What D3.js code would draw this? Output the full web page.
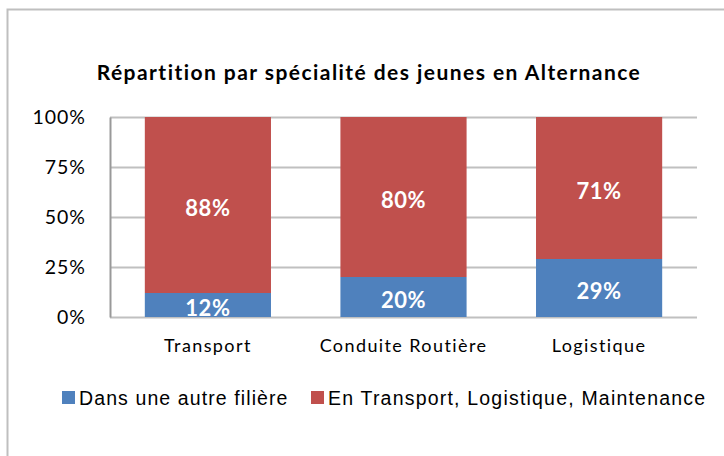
<!DOCTYPE html>
<html>
<head>
<meta charset="utf-8">
<script src="https://cdn.jsdelivr.net/npm/d3@7"></script>
<style>
  body { margin: 0; background: #fff; }
  svg { display: block; }
</style>
</head>
<body>
<script>
// données
const categories = ['Transport', 'Conduite Routière', 'Logistique'];
const autreFiliere = [12, 20, 29];
const enTransport = [88, 80, 71];
const seriesNames = ['Dans une autre filière', 'En Transport, Logistique, Maintenance'];
const yTicks = [0, 25, 50, 75, 100];
const colors = ['#4F81BD', '#C0504D'];

const W = 724, H = 456;
const margin = { top: 117, right: 27, bottom: 139, left: 110 };

const svg = d3.select('body').append('svg')
    .attr('width', W)
    .attr('height', H);

// cadre du graphique
svg.append('rect')
    .attr('x', 7.5).attr('y', 9.5)
    .attr('width', W + 20).attr('height', H + 20)
    .attr('fill', 'none')
    .attr('stroke', '#bfbfbf')
    .attr('stroke-width', 2);

// titre
svg.append('text')
    .attr('x', 369).attr('y', 80)
    .attr('text-anchor', 'middle')
    .attr('font-family', 'Lato, sans-serif')
    .attr('font-weight', 'bold')
    .attr('font-size', 21)
    .attr('letter-spacing', 1.45)
    .attr('fill', '#000')
    .text('Répartition par spécialité des jeunes en Alternance');

const x = d3.scaleBand()
    .domain(categories)
    .range([margin.left, W - margin.right])
    .paddingInner(0.355)
    .paddingOuter(0.178);

const y = d3.scaleLinear()
    .domain([0, 100])
    .range([H - margin.bottom, margin.top]);

// grille
svg.append('g')
    .selectAll('line')
    .data(yTicks)
    .join('line')
    .attr('x1', margin.left).attr('x2', W - margin.right)
    .attr('y1', d => y(d) + 0.5).attr('y2', d => y(d) + 0.5)
    .attr('stroke', '#c0c0c0')
    .attr('stroke-width', 2);

// axe vertical
const yAxis = svg.append('g')
    .attr('transform', `translate(${margin.left},0)`)
    .call(d3.axisLeft(y).tickValues(yTicks).tickFormat(d => d + '%').tickSize(0).tickPadding(24));
yAxis.select('.domain').attr('stroke', '#999').attr('stroke-width', 2);
yAxis.selectAll('text')
    .attr('font-family', 'Lato, sans-serif')
    .attr('font-size', 19.5)
    .attr('letter-spacing', 1)
    .attr('fill', '#000');

// empilement
const rows = categories.map((c, i) => ({ cat: c, a: autreFiliere[i], b: enTransport[i] }));
const stack = d3.stack().keys(['a', 'b'])(rows);

const layers = svg.append('g')
    .selectAll('g')
    .data(stack)
    .join('g')
    .attr('fill', (d, i) => colors[i]);

layers.selectAll('rect')
    .data(d => d)
    .join('rect')
    .attr('x', d => x(d.data.cat))
    .attr('width', x.bandwidth())
    .attr('y', d => y(d[1]))
    .attr('height', d => y(d[0]) - y(d[1]));

// étiquettes de données
layers.selectAll('text')
    .data(d => d)
    .join('text')
    .attr('x', d => x(d.data.cat) + x.bandwidth() / 2)
    .attr('y', d => (y(d[0]) + y(d[1])) / 2)
    .attr('dy', '0.48em')
    .attr('text-anchor', 'middle')
    .attr('font-family', 'Lato, sans-serif')
    .attr('font-weight', 'bold')
    .attr('font-size', 22)
    .attr('letter-spacing', 0.5)
    .attr('fill', '#fff')
    .text(d => (d[1] - d[0]) + '%');

// axe horizontal
const xAxis = svg.append('g')
    .attr('transform', `translate(0,${H - margin.bottom})`)
    .call(d3.axisBottom(x).tickSize(0).tickPadding(22));
xAxis.select('.domain').remove();
xAxis.selectAll('text')
    .attr('font-family', 'Lato, sans-serif')
    .attr('font-size', 18)
    .attr('letter-spacing', 1.4)
    .attr('fill', '#000');

// légende
const legendX = [62, 311];
const legendSpacing = [1.1, 1.2];
const legend = svg.append('g')
    .selectAll('g')
    .data(seriesNames)
    .join('g')
    .attr('transform', (d, i) => `translate(${legendX[i]},391)`);

legend.append('rect')
    .attr('width', 13).attr('height', 13)
    .attr('fill', (d, i) => colors[i]);

legend.append('text')
    .attr('x', 17).attr('y', 14)
    .attr('font-family', 'Liberation Sans, Arial, sans-serif')
    .attr('font-size', 19.5)
    .attr('letter-spacing', (d, i) => legendSpacing[i])
    .attr('fill', '#000')
    .text(d => d);
</script>
</body>
</html>
